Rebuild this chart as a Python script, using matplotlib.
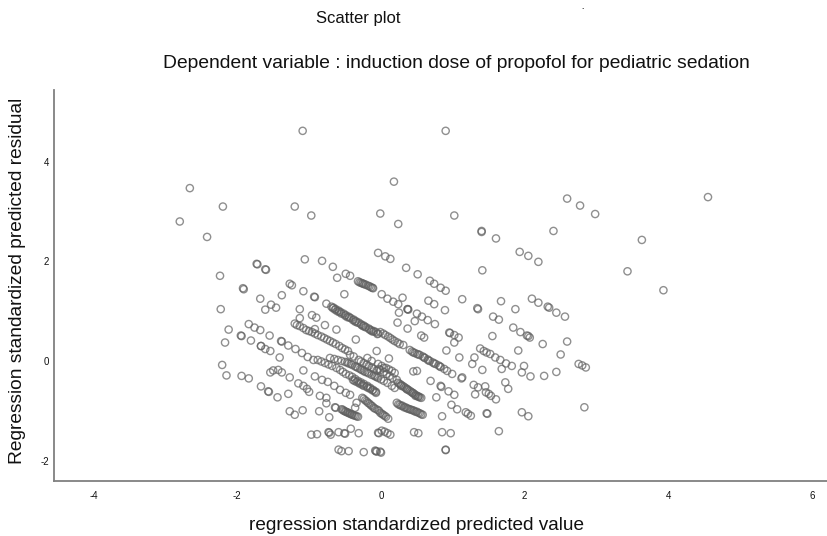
import matplotlib
matplotlib.use("Agg")
import matplotlib.pyplot as plt

plt.rcParams['font.family'] = ['Liberation Sans', 'DejaVu Sans']
plt.rcParams['axes.unicode_minus'] = False

# scattered points
pred_loose = [-1.09, -2.66, -2.20, -1.20, -0.97, -2.80, -2.42, -0.01, -0.04, 0.06, -1.06, -0.82, -1.73, -1.72, -1.61, -1.60,
              -0.67, -0.61, -2.24, 0.90, 0.18, 1.02, 0.24, 1.40, 1.40, 1.60, 2.59, 2.77, 2.98, 2.40, 3.63, 4.55, 3.43, 3.93,
              1.41, 1.93, 2.05, 2.19, 0.13, 0.35, 0.51, 0.68, 0.74, 0.83, 0.90, -1.91, -1.92, -1.68, -1.38, -1.53, -1.46, -1.61,
              -2.23, -1.13, -0.96, -0.90, -0.51, -0.76, -0.93, -0.92, -1.27, -1.24, -1.08, -0.78, -0.62, -0.35, -0.06,
              -2.12, -1.84, -1.76, -1.68, -1.67, -1.55, -1.95, -1.94, -1.81, -2.17, -1.67, -1.61, -1.54, -1.41, -1.39, -1.38,
              -2.21, -2.15, -1.94, -1.84, -1.08, -1.50, -1.43, -1.38, -1.27, -1.54, -1.13, -0.92]
resid_loose = [4.62, 3.47, 3.10, 3.10, 2.92, 2.80, 2.49, 2.96, 2.17, 2.10, 2.04, 2.01, 1.95, 1.94, 1.84, 1.83,
               1.89, 1.67, 1.71, 4.62, 3.60, 2.92, 2.75, 2.61, 2.59, 2.46, 3.26, 3.12, 2.95, 2.61, 2.43, 3.29, 1.80, 1.42,
               1.82, 2.19, 2.11, 1.99, 2.05, 1.87, 1.74, 1.61, 1.55, 1.47, 1.41, 1.44, 1.46, 1.25, 1.32, 1.13, 1.07, 1.03,
               1.04, 1.04, 0.92, 0.87, 1.34, 1.15, 1.29, 1.28, 1.55, 1.52, 1.40, 0.72, 0.63, 0.43, 0.20,
               0.63, 0.74, 0.67, 0.62, 0.30, 0.51, 0.51, 0.50, 0.41, 0.37, 0.30, 0.24, 0.20, 0.07, 0.40, 0.39,
               -0.08, -0.29, -0.30, -0.35, -0.19, -0.19, -0.18, -0.23, -0.33, -0.23, 0.86, 0.64]

# right hand side
pred_right = [0.30, 0.37, 0.25, 0.47, 0.23, 0.37, 0.66, 0.74, 0.89, 1.13, 1.34, 1.35, 1.67, 1.87, 1.56, 1.64,
              2.10, 2.19, 2.32, 2.34, 2.44, 2.56, 1.84, 1.94, 2.03, 2.05, 2.07, 1.55, 0.95, 0.96, 1.02, 1.08, 0.56, 0.60, 1.02,
              2.25, 2.59, 2.50, 1.91, 0.91, 1.09, 1.38, 1.43, 1.47, 1.52, 1.59, 1.66, 1.74, 1.82, 1.30, 1.27, 1.41, 1.68,
              1.99, 1.96, 2.08, 2.27, 2.44, 2.75, 2.80, 2.85, 2.83, 1.96, 2.05, 1.64, 1.47, 1.48, 0.85, 0.97, 0.90, 0.46, 0.52,
              1.73, 1.77, 1.29, 1.35, 1.31, 1.45, 1.46, 1.50, 1.53, 1.60, 0.77, 0.69, 0.83, 0.84, 0.94, 1.02, 1.12, 0.98, 1.06,
              1.18, 1.21, 1.25, 0.85, 0.11, 0.45, 0.50]
resid_right = [1.27, 1.04, 0.97, 0.80, 0.77, 0.65, 1.21, 1.14, 1.02, 1.24, 1.06, 1.04, 1.20, 1.04, 0.89, 0.83,
               1.25, 1.17, 1.09, 1.07, 0.97, 0.89, 0.67, 0.58, 0.51, 0.50, 0.47, 0.50, 0.57, 0.56, 0.52, 0.47, 0.51, 0.47, 0.37,
               0.34, 0.39, 0.13, 0.21, 0.21, 0.07, 0.25, 0.20, 0.17, 0.14, 0.07, 0.02, -0.05, -0.10, 0.07, -0.06, -0.18, -0.16,
               -0.10, -0.23, -0.31, -0.30, -0.22, -0.06, -0.09, -0.13, -0.93, -1.03, -1.11, -1.41, -1.05, -1.06, -1.43, -1.45, -1.79, -1.43, -1.45,
               -0.43, -0.56, -0.48, -0.53, -0.67, -0.51, -0.63, -0.66, -0.70, -0.77, -0.73, -0.40, -0.50, -0.52, -0.61, -0.68, -0.35, -0.88, -0.97,
               -1.03, -1.06, -1.10, -1.11, 0.05, -0.21, -0.20]

# bottom left
pred_low = [-1.67, -1.57, -1.56, -1.44, -1.29, -1.27, -1.20, -1.09, -0.86, -0.72, -0.64, -0.63, -0.97, -0.89, -0.73, -0.72, -0.70,
            -0.59, -0.51, -0.50, -0.42, -0.31, -0.59, -0.55, -0.45, -0.24, -0.08, -0.07, -0.06, -0.04, -0.03, 0.90, -0.01, 0.00,
            -0.85, -0.76, -0.76, -0.34, -0.36]
resid_low = [-0.51, -0.61, -0.62, -0.73, -0.66, -1.01, -1.08, -0.99, -1.01, -1.13, -0.93, -0.94, -1.48, -1.47, -1.43, -1.44, -1.48,
             -1.43, -1.45, -1.46, -1.36, -1.45, -1.78, -1.81, -1.81, -1.83, -1.80, -1.81, -1.82, -1.44, -1.45, -1.78, -1.82, -1.84,
             -0.70, -0.85, -0.74, -0.84, -0.94]

# the diagonal bands
pred_band1 = [-0.49, -0.43, -0.32, -0.28, -0.25, -0.21, -0.18, -0.14, -0.11, 0.01, 0.09, 0.17, 0.24, 0.37, 0.38, 0.50, 0.57, 0.65, 0.75]
resid_band1 = [1.75, 1.71, 1.60, 1.57, 1.55, 1.53, 1.51, 1.48, 1.46, 1.34, 1.25, 1.19, 1.14, 1.04, 1.03, 0.95, 0.89, 0.82, 0.74]

pred_band2 = [-0.69, -0.66, -0.63, -0.59, -0.56, -0.52, -0.49, -0.45, -0.42, -0.38, -0.35, -0.31, -0.28, -0.24, -0.21, -0.17, -0.14,
              -0.10, -0.07, -0.04, -0.01, 0.03, 0.06, 0.10, 0.13, 0.16, 0.19, 0.23, 0.26, 0.31, 0.40, 0.43, 0.47, 0.50, 0.54, 0.58,
              0.61, 0.65, 0.68, 0.72, 0.76, 0.80, 0.83, 0.88, 0.92, 0.99, 1.13]
resid_band2 = [1.09, 1.07, 1.04, 1.01, 0.98, 0.95, 0.92, 0.89, 0.86, 0.83, 0.80, 0.77, 0.74, 0.71, 0.68, 0.65, 0.62,
               0.60, 0.58, 0.55, 0.58, 0.55, 0.52, 0.49, 0.46, 0.43, 0.40, 0.37, 0.34, 0.32, 0.22, 0.19, 0.16, 0.14, 0.12, 0.09,
               0.06, 0.03, 0.00, -0.03, -0.06, -0.09, -0.12, -0.16, -0.20, -0.26, -0.33]

pred_band3 = [-1.20, -1.17, -1.13, -1.08, -1.04, -1.00, -0.96, -0.92, -0.88, -0.83, -0.79, -0.75, -0.71, -0.67, -0.63, -0.58, -0.54, -0.50, -0.46,
              -0.43, -0.38, -0.31, -0.28, -0.24, -0.20, -0.17, -0.13, -0.10, -0.06, -0.03, -0.01, 0.04, 0.08, 0.12, 0.16, 0.22, 0.24, 0.28, 0.32,
              0.36, 0.40, 0.44, 0.48, 0.52, 0.56]
resid_band3 = [0.75, 0.72, 0.70, 0.66, 0.62, 0.60, 0.58, 0.55, 0.52, 0.49, 0.46, 0.43, 0.40, 0.37, 0.34, 0.30, 0.26, 0.23, 0.20,
               0.12, 0.09, 0.02, -0.01, -0.04, -0.07, -0.10, -0.13, -0.16, -0.19, -0.16, -0.18, -0.22, -0.26, -0.30, -0.34, -0.38, -0.44, -0.48, -0.52,
               -0.56, -0.60, -0.64, -0.68, -0.71, -0.74]

pred_band4 = [-1.29, -1.19, -1.10, -1.02, -0.94, -0.88, -0.83, -0.78, -0.73, -0.68, -0.62, -0.57, -0.53, -0.49, -0.44, -0.40, -0.36, -0.32, -0.28, -0.24, -0.19, -0.15,
              -0.11, -0.07, 0.22, 0.26, 0.30, 0.34, 0.38, 0.42, 0.46, 0.50, 0.54, 0.58]
resid_band4 = [0.31, 0.24, 0.16, 0.08, 0.02, 0.02, -0.01, -0.04, -0.07, -0.10, -0.14, -0.18, -0.22, -0.26, -0.29, -0.32, -0.36, -0.40, -0.43, -0.46, -0.50, -0.54,
               -0.58, -0.62, -0.84, -0.88, -0.90, -0.93, -0.96, -0.98, -1.00, -1.02, -1.05, -1.08]

pred_band5 = [-0.71, -0.65, -0.60, -0.55, -0.50, -0.45, -0.40, -0.36, -0.32, -0.27, -0.22, -0.17, -0.13, -0.08, -0.04, 0.00, 0.04, 0.09, 0.15, 0.19]
resid_band5 = [0.06, 0.04, 0.02, 0.00, -0.02, -0.05, -0.08, -0.11, -0.14, -0.18, -0.22, -0.25, -0.28, -0.31, -0.34, -0.37, -0.40, -0.44, -0.50, -0.54]

pred_band6 = [-0.19, -0.13, -0.04, 0.01, 0.04, 0.07, 0.11, 0.15, 0.19]
resid_band6 = [0.06, 0.00, -0.06, -0.10, -0.14, -0.14, -0.17, -0.20, -0.24]

pred_band7 = [-1.15, -1.08, -1.03, -1.00, -0.92, -0.82, -0.74, -0.65, -0.57, -0.49, -0.43, -0.55, -0.52, -0.49, -0.46, -0.43, -0.40, -0.36, -0.32]
resid_band7 = [-0.45, -0.50, -0.56, -0.62, -0.31, -0.38, -0.42, -0.50, -0.58, -0.64, -0.68, -0.97, -1.00, -1.02, -1.04, -1.06, -1.08, -1.10, -1.12]

pred_band8 = [-0.39, -0.34, -0.29, -0.24, -0.18, -0.12, -0.07, -0.26, -0.22, -0.18, -0.14, -0.10, -0.05, -0.01, 0.03, 0.07, 0.10, 0.01, 0.05, 0.09, 0.13]
resid_band8 = [-0.38, -0.42, -0.46, -0.50, -0.54, -0.59, -0.64, -0.74, -0.79, -0.84, -0.89, -0.94, -0.98, -1.04, -1.08, -1.12, -1.16, -1.40, -1.42, -1.45, -1.48]

# extra points where the bands look solid dark in the reference
pred_dense = [-0.67, -0.61, -0.55, -0.50, -0.44, -0.39, -0.33, -0.27, -0.22, -0.16, -0.11, -0.05, -0.64, -0.58, -0.47, -0.36, -0.25, -0.13,
              0.26, 0.30, 0.34, 0.38, 0.42, 0.46, 0.50, 0.54, 0.28, 0.36, 0.44, 0.52, 0.48,
              0.24, 0.28, 0.32, 0.36, 0.40, 0.44, 0.48, 0.52, 0.56,
              -0.53, -0.50, -0.47, -0.44, -0.41, -0.38, -0.34,
              -0.24, -0.20, -0.16, -0.12, -0.08, -0.03, 0.01, 0.05,
              -0.37, -0.31, -0.26, -0.20, -0.15, -0.09, -0.30, -0.26, -0.23, -0.16, -0.12,
              -0.47, -0.42, -0.34, -0.29, -0.24, -0.19, -0.10, -0.06, 0.45, 0.52, 0.60, 0.66, 0.74, 0.82]
resid_dense = [1.06, 1.00, 0.95, 0.91, 0.87, 0.82, 0.77, 0.72, 0.68, 0.63, 0.59, 0.54, 1.03, 0.98, 0.88, 0.79, 0.70, 0.60,
               -0.46, -0.50, -0.54, -0.58, -0.62, -0.66, -0.70, -0.73, -0.50, -0.57, -0.64, -0.72, -0.70,
               -0.87, -0.90, -0.93, -0.95, -0.97, -0.99, -1.02, -1.04, -1.07,
               -0.98, -1.01, -1.03, -1.05, -1.07, -1.09, -1.11,
               -0.76, -0.81, -0.86, -0.91, -0.96, -1.00, -1.06, -1.10,
               -0.40, -0.44, -0.48, -0.52, -0.56, -0.61, 1.58, 1.56, 1.54, 1.50, 1.47,
               -0.03, -0.06, -0.12, -0.16, -0.20, -0.23, -0.29, -0.32, 0.17, 0.13, 0.07, 0.01, -0.05, -0.11]

x_ticks = [-4, -2, 0, 2, 4, 6]
y_ticks = [-2, 0, 2, 4]

pred_groups = [pred_loose, pred_right, pred_low, pred_band1, pred_band2, pred_band3, pred_band4, pred_band5, pred_band6, pred_band7, pred_band8, pred_dense]
resid_groups = [resid_loose, resid_right, resid_low, resid_band1, resid_band2, resid_band3, resid_band4, resid_band5, resid_band6, resid_band7, resid_band8, resid_dense]

fig = plt.figure(figsize=(8.28, 5.36), dpi=100)
ax = fig.add_axes([54 / 828, 1 - 481 / 536, 774 / 828, 391 / 536])

for px, py in zip(pred_groups, resid_groups):
    ax.scatter(px, py, s=27, facecolors='none', edgecolors='#606060', linewidths=1.0, alpha=0.7, clip_on=False)

ax.set_xlim(-4.55, 6.22)
ax.set_ylim(-2.41, 5.44)
ax.set_xticks(x_ticks)
ax.set_yticks(y_ticks)
ax.tick_params(axis='x', length=0, labelsize=7, pad=7.5, labelcolor='#111111')
ax.tick_params(axis='y', length=0, labelsize=7, pad=3.5, labelcolor='#111111')

for s in ['top', 'right']:
    ax.spines[s].set_visible(False)
for s in ['left', 'bottom']:
    ax.spines[s].set_color('#808080')
    ax.spines[s].set_linewidth(1.3)

fig.text(358 / 828, 1 - 19 / 536, "Scatter plot", ha='center', va='center', fontsize=12, color='#111111')
fig.text(456 / 828, 1 - 63 / 536, "Dependent variable : induction dose of propofol for pediatric sedation",
         ha='center', va='center', fontsize=13.9, color='#111111')
fig.text(417 / 828, 1 - 526 / 536, "regression standardized predicted value", ha='center', va='center', fontsize=13.7, color='#111111')
fig.text(18 / 828, 1 - 281 / 536, "Regression standardized predicted residual", ha='center', va='center',
         rotation=90, fontsize=13.8, color='#111111')
fig.text(583 / 828, 1 - 9 / 536, ".", ha='center', va='baseline', fontsize=6, fontweight='bold', color='#111111')

fig.savefig("out.png", dpi=100)
